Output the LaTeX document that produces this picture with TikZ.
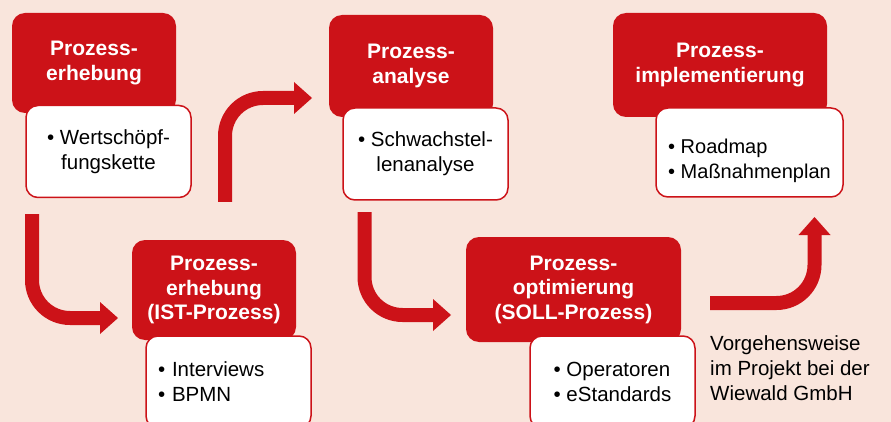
\documentclass[tikz,border=0pt]{standalone}
\usepackage{fontspec}
\setmainfont{Liberation Sans}
\usetikzlibrary{arrows.meta}
\definecolor{wred}{RGB}{204,18,24}
\definecolor{wbg}{RGB}{249,229,220}
\tikzset{
  phase/.style={fill=wred, rounded corners=13pt, text=white, align=center, inner sep=0pt,
    minimum width=164pt, minimum height=100pt, font=\fontsize{21}{24.5}\selectfont\bfseries},
  items/.style={fill=white, draw=wred, line width=1.5pt, rounded corners=12pt, inner sep=0pt,
    minimum width=165pt, minimum height=92pt, font=\fontsize{20.5}{25}\selectfont},
  flow/.style={draw=wred, line width=14pt, rounded corners=38pt,
    -{Triangle[width=32pt,length=18pt,line width=0pt]}}
}
\begin{document}
\begin{tikzpicture}[x=1pt,y=-1pt]
  \clip (0,0) rectangle (891,422);
  \fill[wbg] (0,0) rectangle (891,422); % background

  % phases
  \node[phase] (erh) at (94,63) {Prozess-\\erhebung};
  \node[items, align=center] (erhL) at (108.5,151.5) {\textbullet\ Wertschöpf-\\fungskette};

  \node[phase] (ist) at (214,290) {Prozess-\\erhebung\\(IST-Prozess)};
  \node[items, align=left, text width=141pt] (istL) at (228.5,382) {\textbullet\ Interviews\\\textbullet\ BPMN};

  \node[phase, minimum height=102pt] (ana) at (411,66) {Prozess-\\analyse};
  \node[items, align=center] (anaL) at (425.5,154) {\textbullet\ Schwachstel-\\lenanalyse};

  \node[phase, minimum width=215pt, minimum height=105pt] (soll) at (573.5,289.5) {Prozess-\\optimierung\\(SOLL-Prozess)};
  \node[items, align=left] (sollL) at (612.5,382) {\textbullet\ Operatoren\\\textbullet\ eStandards};

  \node[phase, minimum width=214pt, minimum height=104pt] (impl) at (720,65) {Prozess-\\implementierung};
  \node[items, minimum width=187pt, minimum height=89pt, font=\fontsize{20}{25}\selectfont] (implL) at (749.5,152.5)
    {\raisebox{-9pt}[\height][\depth]{\begin{tabular}{@{}l@{}}\textbullet\ Roadmap\\\textbullet\ Maßnahmenplan\end{tabular}}};

  \node[anchor=north west, align=left, inner sep=0pt, font=\fontsize{20.5}{25}\selectfont] (note) at (710,335)
    {Vorgehensweise\\im Projekt bei der\\Wiewald GmbH};

  % arrows between the phases
  \coordinate (a1s) at (32,214);   \coordinate (a1e) at (118,318);
  \coordinate (a2s) at (225,202);  \coordinate (a2e) at (312,98);
  \coordinate (a3s) at (364.5,212); \coordinate (a3e) at (451,315);
  \coordinate (a4s) at (710,303);  \coordinate (a4e) at (814.5,217);
  \draw[flow] (a1s) |- (a1e);
  \draw[flow] (a2s) |- (a2e);
  \draw[flow] (a3s) |- (a3e);
  \draw[flow] (a4s) -| (a4e);
\end{tikzpicture}
\end{document}
